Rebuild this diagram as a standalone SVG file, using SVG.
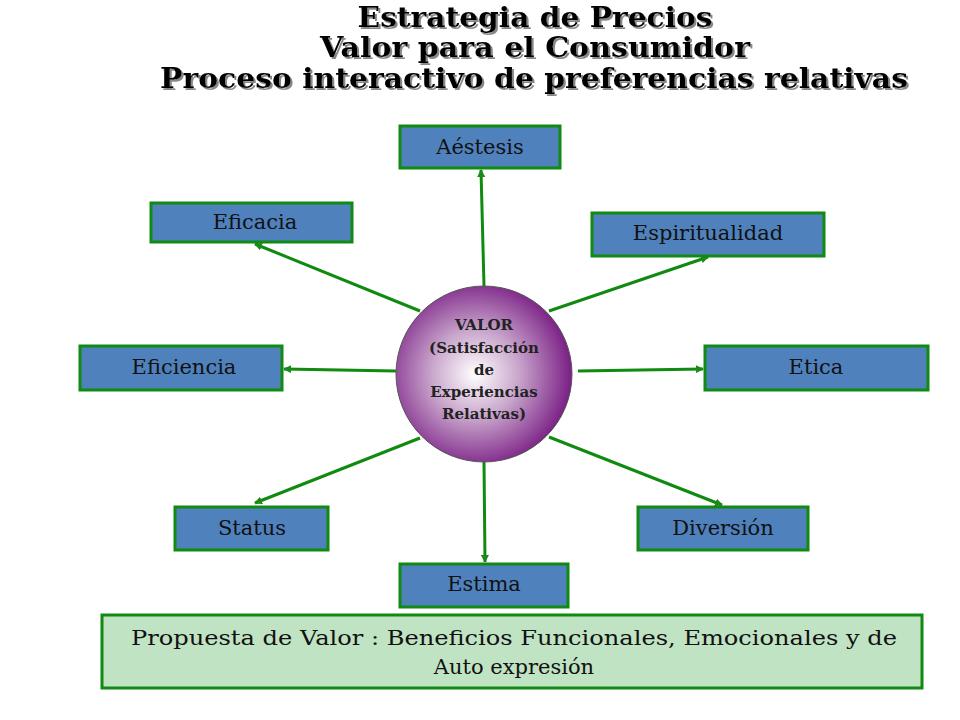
<svg xmlns="http://www.w3.org/2000/svg" width="960" height="720" viewBox="0 0 960 720">
<defs>
<radialGradient id="g" cx="0.45" cy="0.5" r="0.55">
<stop offset="0" stop-color="#ffffff"/>
<stop offset="0.45" stop-color="#c9a6cc"/>
<stop offset="1" stop-color="#7a1f85"/>
</radialGradient>
<filter id="sh" x="-5%" y="-20%" width="110%" height="140%">
<feDropShadow dx="2" dy="2" stdDeviation="0.6" flood-color="#888"/>
</filter>
<marker id="a" markerWidth="8" markerHeight="8" refX="7" refY="4" orient="auto" markerUnits="userSpaceOnUse">
<path d="M0,0 L8,4 L0,8 Z" fill="#1a8a1a"/>
</marker>
<style>
.b{fill:#4f81bd;stroke:#108a10;stroke-width:3}
.t{font-family:'DejaVu Serif',serif;font-size:21px;fill:#111;text-anchor:middle}
.h{font-family:'DejaVu Serif',serif;font-weight:bold;font-size:27px;text-anchor:middle;fill:#000}
.c{font-family:'DejaVu Serif',serif;font-weight:bold;font-size:15px;fill:#222;text-anchor:middle}
#conn line{stroke:#108a10;stroke-width:3;marker-end:url(#a)}
</style>
</defs>
<rect width="960" height="720" fill="#fff"/>
<g id="title" filter="url(#sh)">
<text class="h" x="535" y="27" textLength="355" lengthAdjust="spacingAndGlyphs">Estrategia de Precios</text>
<text class="h" x="535" y="57" textLength="430" lengthAdjust="spacingAndGlyphs">Valor para el Consumidor</text>
<text class="h" x="534" y="88" textLength="748" lengthAdjust="spacingAndGlyphs">Proceso interactivo de preferencias relativas</text>
</g>
<g id="conn">
<line x1="484" y1="286" x2="481" y2="170"/>
<line x1="420" y1="311" x2="255" y2="244"/>
<line x1="549" y1="311" x2="708" y2="257"/>
<line x1="396" y1="371" x2="284" y2="369"/>
<line x1="578" y1="371" x2="703" y2="369"/>
<line x1="420" y1="438" x2="255" y2="503"/>
<line x1="549" y1="437" x2="722" y2="505"/>
<line x1="484" y1="462" x2="485" y2="562"/>
</g>
<g id="valor">
<circle cx="484" cy="374" r="88" fill="url(#g)" stroke="#555" stroke-width="1"/>
<text class="c" x="484" y="330">VALOR</text>
<text class="c" x="484" y="353">(Satisfacción</text>
<text class="c" x="484" y="375">de</text>
<text class="c" x="484" y="397">Experiencias</text>
<text class="c" x="484" y="419">Relativas)</text>
</g>
<g id="aestesis"><rect class="b" x="400" y="126" width="160" height="42"/><text class="t" x="480" y="154">Aéstesis</text></g>
<g id="eficacia"><rect class="b" x="151" y="203" width="201" height="39"/><text class="t" x="255" y="229">Eficacia</text></g>
<g id="espiritualidad"><rect class="b" x="592" y="213" width="232" height="43"/><text class="t" x="708" y="240">Espiritualidad</text></g>
<g id="eficiencia"><rect class="b" x="80" y="346" width="202" height="44"/><text class="t" x="184" y="374">Eficiencia</text></g>
<g id="etica"><rect class="b" x="705" y="346" width="223" height="44"/><text class="t" x="816" y="374">Etica</text></g>
<g id="status"><rect class="b" x="175" y="507" width="153" height="43"/><text class="t" x="252" y="535">Status</text></g>
<g id="diversion"><rect class="b" x="638" y="507" width="170" height="43"/><text class="t" x="723" y="535">Diversión</text></g>
<g id="estima"><rect class="b" x="400" y="564" width="168" height="43"/><text class="t" x="484" y="591">Estima</text></g>
<g id="propuesta"><rect x="102" y="615" width="820" height="73" fill="#bfe3c3" stroke="#108a10" stroke-width="3"/>
<text class="t" x="514" y="645" textLength="766" lengthAdjust="spacingAndGlyphs">Propuesta de Valor : Beneficios Funcionales, Emocionales y de</text>
<text class="t" x="514" y="674">Auto expresión</text></g>
</svg>
